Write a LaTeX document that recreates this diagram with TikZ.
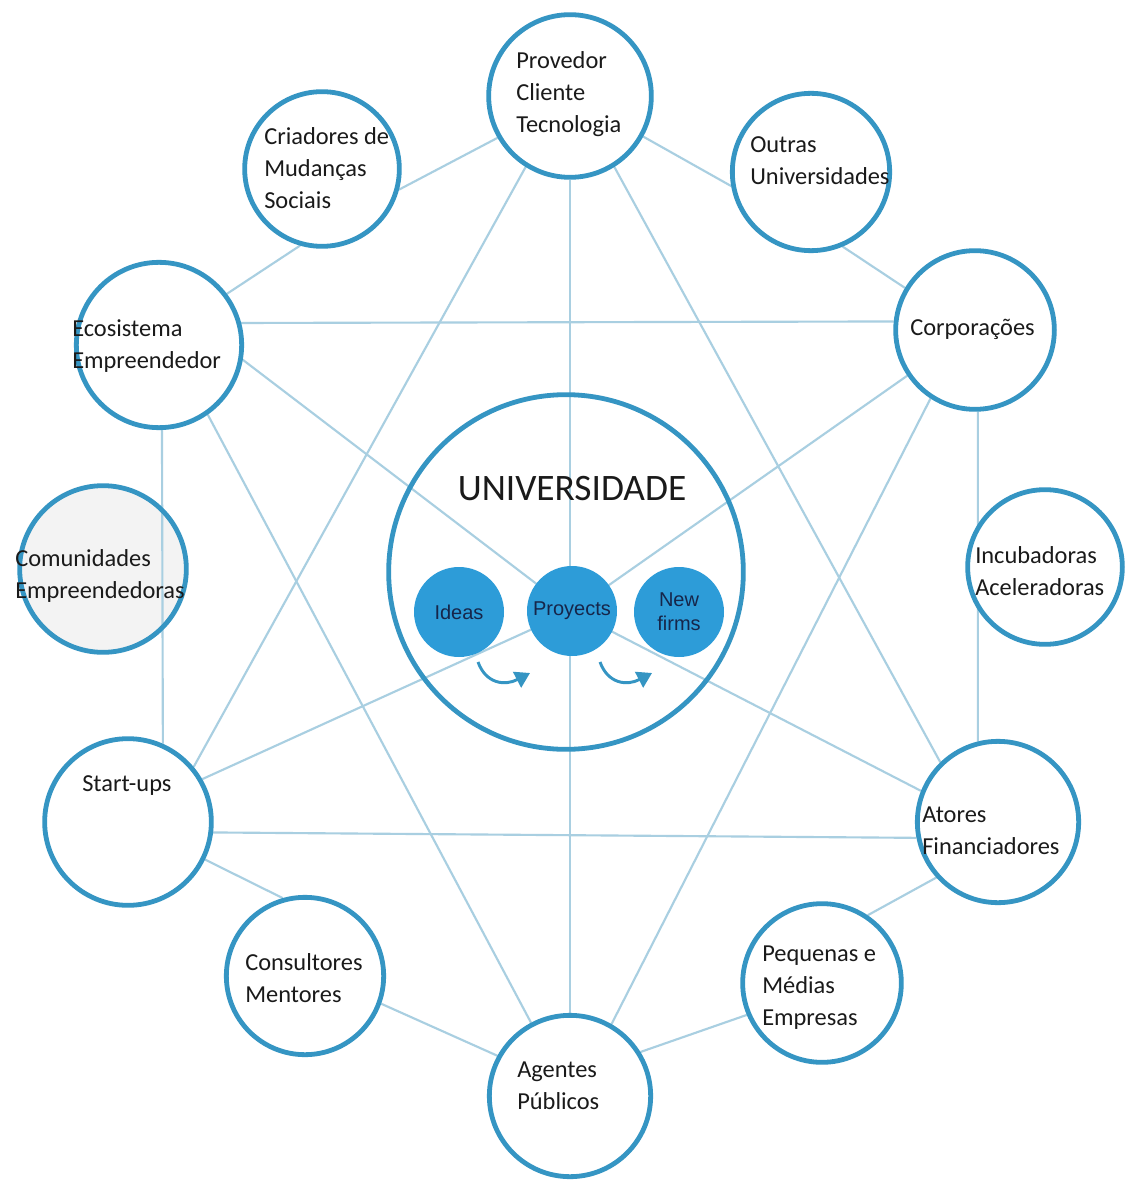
\documentclass[tikz,border=0pt]{standalone}
\usepackage{fontspec}
\setmainfont{Carlito}
\newfontfamily\arialf{Liberation Sans}
\usetikzlibrary{arrows.meta}
\definecolor{ring}{HTML}{3595C3}
\definecolor{link}{HTML}{A9CFE1}
\definecolor{dot}{HTML}{2D9CD8}
\definecolor{navy}{HTML}{16264A}
\definecolor{txt}{HTML}{1A1A1A}
\definecolor{paleg}{HTML}{F3F3F3}
\pgfdeclarelayer{back}
\pgfdeclarelayer{bg}
\pgfsetlayers{back,bg,main}
\begin{document}
\begin{tikzpicture}[x=0.75pt,y=-0.75pt,
  actor/.style={circle,draw=ring,line width=3.6pt,fill=white,inner sep=0pt,minimum size=#1},
  bigring/.style={circle,draw=ring,line width=3.6pt,inner sep=0pt,minimum size=#1},
  stage/.style={circle,fill=dot,inner sep=0pt,minimum size=67.5pt,text=navy,align=center,
    font=\arialf\fontsize{15}{18}\selectfont},
  link/.style={draw=link,line width=1.6pt},
  lbl/.style={align=left,text=txt,inner sep=0pt,anchor=west,font=\fontsize{18.3}{24}\selectfont},
  title/.style={text=txt,inner sep=0pt,font=\fontsize{28}{30}\selectfont},
  flow/.style={draw=ring,line width=2.2pt,-{Triangle[length=11pt,width=13pt]}}]
\begin{pgfonlayer}{back}
\fill[white] (0,0) rectangle (1127,1180);
\end{pgfonlayer}
\useasboundingbox (0,0) rectangle (1127,1180);
% outer actors
\node[actor=122pt] (prov) at (570,96) {};
\node[actor=116pt] (crea) at (322,169) {};
\node[actor=118pt] (outr) at (811,172) {};
\node[actor=124pt] (eco) at (159,345) {};
\node[actor=119pt] (corp) at (975,330) {};
\node[actor=125pt,fill=none] (comu) at (103,569) {};
\node[actor=116pt] (incu) at (1045,567) {};
\node[actor=125pt] (star) at (128,822) {};
\node[actor=121pt] (ator) at (998,822) {};
\node[actor=118pt] (cons) at (305,976) {};
\node[actor=119pt] (pequ) at (822,983) {};
\node[actor=121pt] (agen) at (570,1096) {};
% university
\node[bigring=266pt] (univ) at (566,572) {};
\node[stage] (idea) at (459,612) {Ideas};
\node[stage] (proy) at (572,611) {Proyects};
\node[stage] (newf) at (679,612) {New\\firms};
\begin{pgfonlayer}{back}
\fill[paleg] (comu.center) circle[radius=83.5];
\end{pgfonlayer}
% connectors
\begin{pgfonlayer}{bg}
\draw[link] (prov.210) -- (crea.345);
\draw[link] (prov.331) -- (outr.190);
\draw[link] (prov.270) -- (agen.90);
\draw[link] (prov.238) -- (star.40);
\draw[link] (prov.302) -- (ator.134);
\draw[link] (crea.254) -- (eco.37);
\draw[link] (outr.293) -- (corp.149);
\draw[link] (eco.15) -- (corp.174);
\draw[link] (eco.272) -- (star.66);
\draw[link] (corp.272) -- (ator.104);
\draw[link] (eco.350) -- (proy.center);
\draw[link] (corp.214) -- (proy.center);
\draw[link] (star.30) -- (proy.center);
\draw[link] (proy.center) -- (ator.158);
\draw[link] (eco.305) -- (agen.118);
\draw[link] (corp.237) -- (agen.60);
\draw[link] (star.353) -- (ator.191);
\draw[link] (star.334) -- (cons.106);
\draw[link] (cons.340) -- (agen.151);
\draw[link] (agen.32) -- (pequ.203);
\draw[link] (pequ.56) -- (ator.222);
\end{pgfonlayer}
% flow arrows
\coordinate (a1s) at (478,662);
\coordinate (a1e) at (530,673);
\coordinate (a2s) at (600,662);
\coordinate (a2e) at (652,673);
\draw[flow] (a1s) .. controls (486,684) and (505,686) .. (a1e);
\draw[flow] (a2s) .. controls (608,684) and (627,686) .. (a2e);
% labels
\node[title] (tuniv) at (572,489) {UNIVERSIDADE};
\node[lbl] (tprov) at (516,94) {Provedor\\Cliente\\Tecnologia};
\node[lbl] (tcrea) at (264,168.5) {Criadores de\\Mudanças\\Sociais};
\node[lbl] (toutr) at (750,160.5) {Outras\\Universidades};
\node[lbl] (teco) at (72,346) {Ecosistema\\Empreendedor};
\node[lbl] (tcorp) at (910,329) {Corporações};
\node[lbl] (tcomu) at (15,575.5) {Comunidades\\Empreendedoras};
\node[lbl] (tincu) at (975,571) {Incubadoras\\Aceleradoras};
\node[lbl] (tstar) at (82,786) {Start-ups};
\node[lbl] (tator) at (922,830.5) {Atores\\Financiadores};
\node[lbl] (tcons) at (245,978) {Consultores\\Mentores};
\node[lbl] (tpequ) at (762,988) {Pequenas e\\Médias\\Empresas};
\node[lbl] (tagen) at (517,1085.5) {Agentes\\Públicos};
\end{tikzpicture}
\end{document}
